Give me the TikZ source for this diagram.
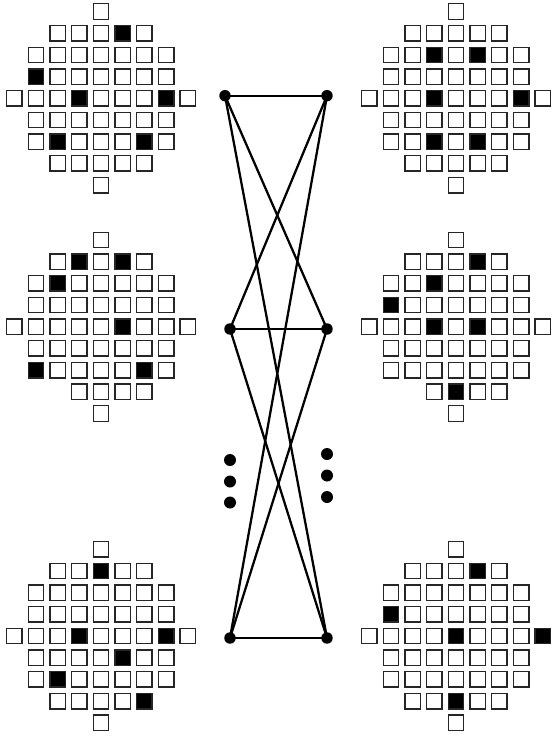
\documentclass[tikz,border=0pt]{standalone}
\usepackage{tikz}
\usetikzlibrary{positioning}

\begin{document}
\begin{tikzpicture}[
  x=0.75pt, y=-0.75pt,
  cell/.style={
    draw=black!85, line width=1pt, rectangle, fill=white,
    minimum size=11.6pt, inner sep=0pt, outer sep=0pt
  },
  fullcell/.style={cell, fill=black},
  vertex/.style={
    circle, fill=black, inner sep=0pt, minimum size=8.6pt
  },
  ellip/.style={
    circle, fill=black, inner sep=0pt, minimum size=9pt
  },
  arete/.style={line width=1.7pt, draw=black}
]
  \useasboundingbox (0,0) rectangle (551,736);

  % Grilles (centre, debut de la ligne 7, cases noires)
  \foreach \g/\gx/\gy/\sept/\noires in {
      hg/101/98.3/2/{1/5, 3/1, 4/3, 4/7, 6/2, 6/6},
      hd/456/98.3/2/{2/3, 2/5, 4/3, 4/7, 6/3, 6/5},
      mg/101/326.7/3/{1/3, 1/5, 2/2, 4/5, 6/1, 6/6},
      md/456/326.7/3/{1/5, 2/3, 3/1, 4/3, 4/5, 7/4},
      bg/101/636/2/{1/4, 4/3, 4/7, 5/5, 6/2, 7/6},
      bd/456/636/2/{1/5, 3/1, 4/4, 4/8, 7/4}} {
    \foreach \r/\a/\b in {0/4/4, 1/2/6, 2/1/7, 3/1/7, 4/0/8, 5/1/7, 6/1/7, 7/\sept/6, 8/4/4} {
      \foreach \c in {\a,...,\b} {
        \node[cell] (\g-\r-\c) at ({\gx+(\c-4)*21.7}, {\gy+(\r-4)*21.7}) {};
      }
    }
    \foreach \r/\c in \noires {
      \node[fullcell] at (\g-\r-\c) {};
    }
  }

  % Graphe biparti
  \node[vertex] (g1) at (225,95.7) {};
  \node[vertex] (g2) at (230,329) {};
  \node[vertex] (g3) at (230,638) {};
  \node[vertex] (d1) at (327,95.7) {};
  \node[vertex] (d2) at (327,329) {};
  \node[vertex] (d3) at (327,638) {};

  \foreach \i in {1,2,3} {
    \foreach \j in {1,2,3} {
      \draw[arete] (g\i.center) -- (d\j.center);
    }
  }

  % Points de suspension
  \node[ellip] (pg1) at (230,460) {};
  \node[ellip] (pg2) at (230,481.5) {};
  \node[ellip] (pg3) at (230,502.5) {};
  \node[ellip] (pd1) at (327,454) {};
  \node[ellip] (pd2) at (327,475.5) {};
  \node[ellip] (pd3) at (327,497) {};

\end{tikzpicture}
\end{document}
